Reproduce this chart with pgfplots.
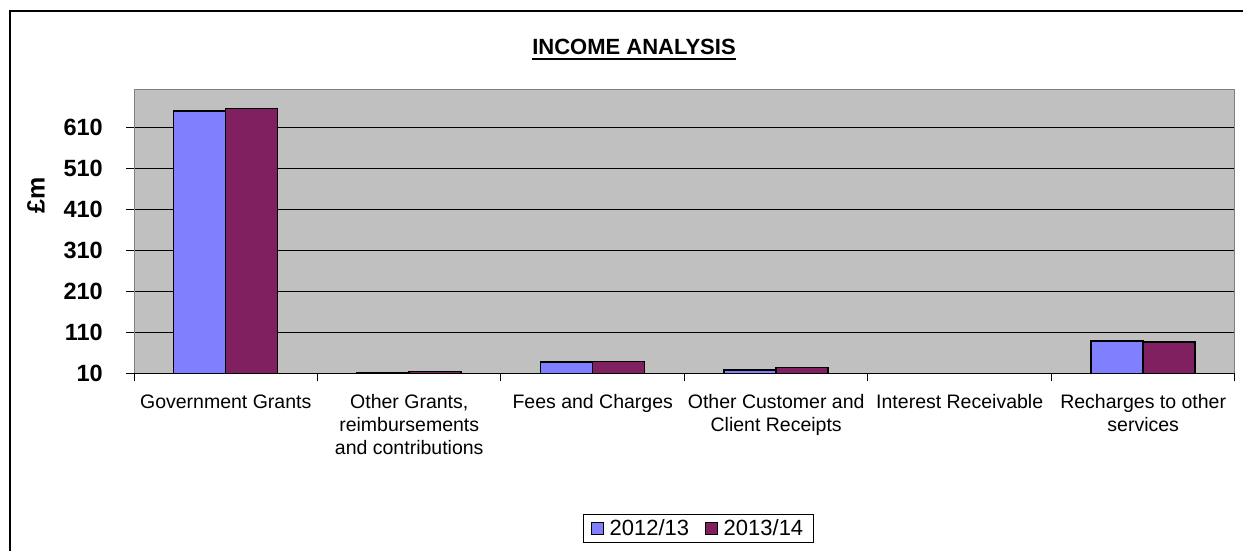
\documentclass[border=0pt]{standalone}
\usepackage{fontspec}
\setmainfont{Liberation Sans}
\usepackage{pgfplots}
\pgfplotsset{compat=1.18}
\definecolor{cA}{HTML}{8080FF}
\definecolor{cB}{HTML}{802060}
\definecolor{plotbg}{HTML}{C0C0C0}
\definecolor{frameg}{HTML}{808080}
\begin{document}
\begin{tikzpicture}
\useasboundingbox (0bp,0bp) rectangle (1243bp,551bp);
\draw[line width=1.5bp] (10bp,0bp) -- (10bp,540bp) -- (1243bp,540bp);
\node[inner sep=0pt, anchor=base, font=\fontsize{22bp}{26bp}\selectfont\bfseries] (t) at (634bp,496bp) {INCOME ANALYSIS};
\draw[line width=2bp] ([yshift=-4bp]t.base west) -- ([yshift=-4bp]t.base east);
\node[rotate=90, inner sep=0pt, font=\fontsize{25bp}{29bp}\selectfont\bfseries] at (36bp,356bp) {£m};
\begin{axis}[
  at={(134bp,177.7bp)}, anchor=south west,
  scale only axis, width=1101bp, height=284bp,
  axis background/.style={fill=plotbg},
  axis line style={draw=frameg, line width=1bp},
  ybar=0pt, bar width=52bp,
  xmin=-0.5, xmax=5.5, ymin=10, ymax=703,
  xtick={-0.5,0.5,1.5,2.5,3.5,4.5,5.5},
  xticklabels={},
  extra x ticks={0,1,2,3,4,5},
  extra x tick labels={Government Grants,{Other Grants,\\reimbursements\\and contributions},Fees and Charges,{Other Customer and\\Client Receipts},Interest Receivable,{Recharges to other\\services}},
  extra x tick style={major tick length=0pt, grid=none,
     xticklabel style={align=center, anchor=north, inner sep=0pt, yshift=-21bp, font=\fontsize{19.5bp}{23bp}\selectfont}},
  x tick style={black, line width=1bp},
  ytick={10,110,210,310,410,510,610},
  yticklabel style={anchor=east, inner sep=0pt, xshift=-23bp, font=\fontsize{23.5bp}{27bp}\selectfont\bfseries},
  /pgf/number format/assume math mode=true,
  y tick style={black, line width=1bp},
  tick align=outside,
  tick pos=left,
  major tick length=8bp,
  ymajorgrids,
  grid style={black, line width=1bp},
  clip=true,
  legend columns=2,
  legend style={at={(rel axis cs:0.5125,-0.5465)}, anchor=center, draw=black, line width=1bp,
     font=\fontsize{22bp}{25bp}\selectfont, inner xsep=8bp, inner ysep=3bp,
     /tikz/every even column/.append style={column sep=14bp}},
  legend image code/.code={\draw[#1, line width=1bp] (0bp,-6bp) rectangle (12bp,6bp); \path[draw=none, fill=none] (0bp,0bp) (16bp,0bp);},
]
\addplot[fill=cA, draw=black, line width=1.5bp] coordinates {(0,650) (1,12) (2,37) (3,18) (4,2) (5,89)};
\addplot[fill=cB, draw=black, line width=1.5bp] coordinates {(0,656) (1,14) (2,39) (3,24) (4,2) (5,86)};
\legend{2012/13,2013/14}
\draw[black, line width=1.2bp] (rel axis cs:0,0) -- (rel axis cs:1,0);
\end{axis}
\end{tikzpicture}
\end{document}
